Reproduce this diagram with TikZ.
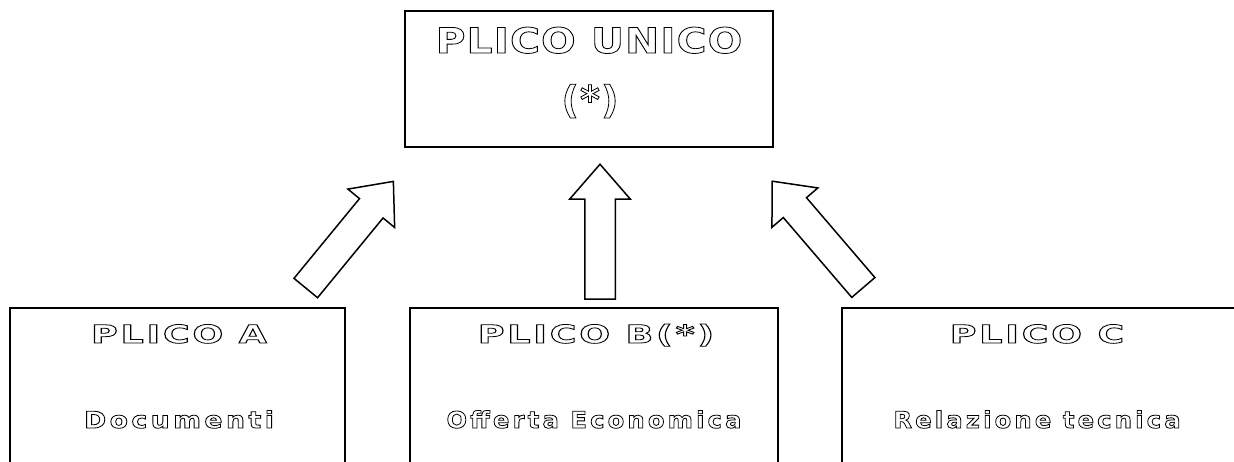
\documentclass[tikz,border=0pt]{standalone}
\usepackage{fontspec}
\usepackage{graphicx}
\usetikzlibrary{shapes.arrows, positioning}
\newfontfamily\unicofont{DejaVu Sans Bold}[LetterSpace=3]
\newfontfamily\plicofont{DejaVu Sans Bold}[LetterSpace=8]
\newfontfamily\descfont{DejaVu Sans Bold}[FakeStretch=1.05, LetterSpace=14]
% hollow letters: stroke only
\newcommand\hollow[1]{\special{pdf:code 1 Tr 0.8 w}#1\special{pdf:code 0 Tr}}
\newcommand\wide[2]{\scalebox{#1}[1]{\hollow{#2}}}

\begin{document}
\begin{tikzpicture}[x=1pt, y=1pt,
    box/.style={draw, line width=2pt, inner sep=0pt},
    label/.style={inner sep=0pt, anchor=base},
    bigarrow/.style={single arrow, draw, fill=white, line width=1.5pt, inner xsep=0pt, inner ysep=14.5pt,
        single arrow head extend=15pt, single arrow tip angle=82, minimum height=138pt}]
        \useasboundingbox (0,0) rectangle (1234,461);
        \node[box, minimum width=368pt, minimum height=136pt] (unico) at (589,382) {};
        \node[box, minimum width=335pt, minimum height=173pt] (plicoA) at (177.5,66.5) {};
        \node[box, minimum width=368pt, minimum height=173pt] (plicoB) at (594,66.5) {};
        \node[box, minimum width=418pt, minimum height=173pt] (plicoC) at (1051,66.5) {};
        % texts
        \node[label, font=\unicofont\fontsize{35}{40}\selectfont] (unicoT) at (589,408) {\wide{1.16}{PLICO UNICO}};
        \node[label, font=\unicofont\fontsize{38}{40}\selectfont] (unicoS) at (590,348) {\hollow{(*)}};
        \node[label, font=\plicofont\fontsize{25}{30}\selectfont] (plicoAT) at (179,118) {\wide{1.45}{PLICO A}};
        \node[label, font=\plicofont\fontsize{25}{30}\selectfont] (plicoBT) at (596,118) {\wide{1.45}{PLICO B(*)}};
        \node[label, font=\plicofont\fontsize{25}{30}\selectfont] (plicoCT) at (1037,118) {\wide{1.45}{PLICO C}};
        \node[label, font=\descfont\fontsize{23}{28}\selectfont] (plicoAS) at (179,33) {\wide{1.1}{Documenti}};
        \node[label, font=\descfont\fontsize{23}{28}\selectfont] (plicoBS) at (594,33) {\hollow{Offerta Economica}};
        \node[label, font=\descfont\fontsize{23}{28}\selectfont] (plicoCS) at (1037,33) {\hollow{Relazione tecnica}};
        % arrows
        \node[bigarrow, rotate=50.6] (arrA) at (344,219.5) {};
        \node[bigarrow, rotate=90, minimum height=135pt] (arrB) at (600,220.5) {};
        \node[bigarrow, rotate=130.6, minimum height=140pt] (arrC) at (823.5,220) {};
    \end{tikzpicture}
\end{document}
